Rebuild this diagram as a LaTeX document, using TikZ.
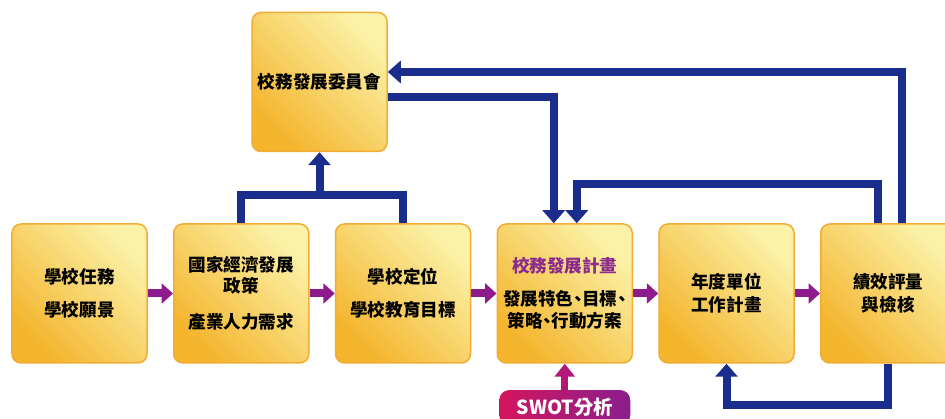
\documentclass[tikz,border=0pt]{standalone}
\usepackage{fontspec}
\newfontfamily\cjk{Noto Sans CJK TC}
\usetikzlibrary{positioning,arrows.meta}

\definecolor{boxlight}{HTML}{FBF2A8}
\definecolor{boxdark}{HTML}{F4B42C}
\definecolor{boxline}{HTML}{F2AC35}
\definecolor{feedblue}{HTML}{1B2D8C}
\definecolor{stepviolet}{HTML}{8E1B8E}
\definecolor{swotpink}{HTML}{D4155E}
\definecolor{swotviolet}{HTML}{8A1E8E}
\definecolor{swotarrow}{HTML}{B3177A}
\definecolor{plantitle}{HTML}{8B2A8E}

\newcommand\slimcomma{\kern-0.25em、\kern-0.25em}

\tikzset{
  stage/.style={draw=boxline, line width=0.03cm, rounded corners=0.18cm,
    minimum width=2.7cm, minimum height=2.78cm, inner sep=0pt, align=center,
    font=\cjk\bfseries\fontsize{10}{12}\selectfont,
    bottom color=boxdark, top color=boxlight, shading angle=-45},
  swotbox/.style={rounded corners=0.2cm, minimum width=2.62cm, minimum height=0.7cm,
    text=white, font=\cjk\bfseries\fontsize{11}{13}\selectfont,
    left color=swotpink, right color=swotviolet},
  feedback/.style={draw=feedblue, line width=0.16cm},
  feedarrow/.style={feedback, -{Triangle[width=0.44cm,length=0.26cm]}},
  nextstep/.style={draw=stepviolet, line width=0.16cm, -{Triangle[width=0.4cm,length=0.23cm]}},
  swotstep/.style={draw=swotarrow, line width=0.14cm, -{Triangle[width=0.4cm,length=0.26cm]}}
}

\begin{document}
\begin{tikzpicture}
  \useasboundingbox (0,0) rectangle (18.9,8.38);

  % main row
  \node[stage] (mission) at (1.59,2.51) {學校任務\\[6.8pt]學校願景};
  \node[stage, right=0.505cm of mission] (policy) {國家經濟發展\\政策\\[8.5pt]產業人力需求};
  \node[stage, right=0.505cm of policy] (position) {學校定位\\[6.8pt]學校教育目標};
  \node[stage, right=0.505cm of position] (plan)
    {{\color{plantitle}校務發展計畫}\\[6.8pt]發展特色\slimcomma 目標\slimcomma\\[0.5pt]策略\slimcomma 行動方案};
  \node[stage, right=0.505cm of plan] (annual) {年度單位\\[1pt]工作計畫};
  \node[stage, right=0.505cm of annual] (review) {績效評量\\[1pt]與檢核};

  \node[stage] (committee) at (6.39,6.74) {校務發展委員會};
  \node[swotbox, below=0.52cm of plan] (swot) {SWOT分析};

  % steps
  \draw[nextstep] (mission) -- (policy);
  \draw[nextstep] (policy) -- (position);
  \draw[nextstep] (position) -- (plan);
  \draw[nextstep] (plan) -- (annual);
  \draw[nextstep] (annual) -- (review);
  \draw[swotstep] (swot) -- (plan);

  % feedback lines
  \coordinate (join) at (6.39,4.48);
  \draw[feedback] (policy.north) |- (join) -| (position.north);
  \draw[feedarrow] (join) -- (committee.south);
  \draw[feedarrow] ([yshift=-0.3cm]committee.east) -| ([xshift=-0.22cm]plan.north);
  \draw[feedarrow] ([xshift=0.28cm]review.north) |- ([yshift=0.2cm]committee.east);
  \draw[feedarrow] ([xshift=-0.2cm]review.north) -- ++(0,0.78) -| ([xshift=0.24cm]plan.north);
  \draw[feedarrow] (review.south) -- ++(0,-0.82) -| (annual.south);
\end{tikzpicture}
\end{document}
